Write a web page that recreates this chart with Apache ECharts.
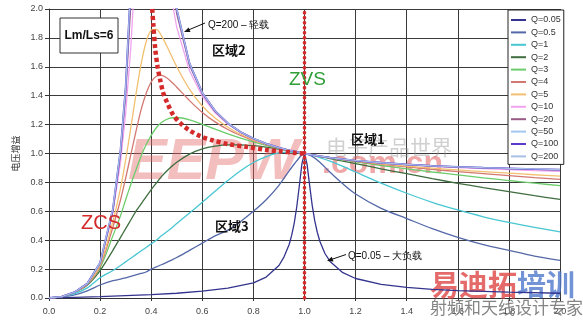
<!DOCTYPE html>
<html><head><meta charset="utf-8">
<script src="https://cdn.jsdelivr.net/npm/echarts@6/dist/echarts.min.js"></script>
<style>html,body{margin:0;padding:0;background:#fff}#c{width:583px;height:323px}</style>
</head><body><div id="c"></div>
<script>
// normalized frequency fn = fs/fr
const freq = [0,0.05,0.1,0.15,0.2,0.25,0.28,0.3,0.32,0.34,0.36,0.38,0.4,0.42,0.44,0.47,0.5,0.55,0.6,0.65,0.7,0.75,0.8,0.85,0.9,0.94,0.97,1.0,1.03,1.06,1.1,1.15,1.2,1.3,1.4,1.5,1.6,1.7,1.8,1.9,2.0];
const freqQ005 = [0,0.1,0.2,0.3,0.4,0.5,0.6,0.7,0.8,0.85,0.9,0.92,0.94,0.95,0.96,0.97,0.98,0.99,1.0,1.01,1.02,1.03,1.04,1.05,1.06,1.08,1.1,1.15,1.2,1.3,1.4,1.5,1.6,1.8,2.0];
const gainQ005 = [0,0.005,0.010,0.017,0.024,0.033,0.047,0.069,0.105,0.145,0.225,0.285,0.37,0.435,0.52,0.635,0.78,0.93,1.0,0.927,0.781,0.643,0.535,0.455,0.393,0.308,0.253,0.175,0.135,0.094,0.073,0.060,0.051,0.040,0.033];
const gainQ05 = [0,0.008,0.022,0.05,0.09,0.12,0.13,0.14,0.15,0.16,0.17,0.18,0.20,0.215,0.23,0.255,0.28,0.33,0.38,0.43,0.47,0.53,0.60,0.68,0.78,0.88,0.95,1.0,0.98,0.94,0.87,0.79,0.72,0.62,0.55,0.48,0.42,0.37,0.33,0.29,0.26];
const gainQ1 = [0,0.01,0.03,0.07,0.14,0.19,0.225,0.25,0.275,0.30,0.325,0.35,0.375,0.40,0.43,0.47,0.515,0.588,0.663,0.739,0.813,0.881,0.938,0.979,1.004,1.010,1.008,1.0,0.988,0.972,0.947,0.911,0.872,0.795,0.725,0.662,0.609,0.562,0.523,0.488,0.457];
const gainQ2 = [0,0.01,0.04,0.09,0.19,0.33,0.42,0.48,0.54,0.60,0.65,0.70,0.75,0.795,0.84,0.895,0.94,0.996,1.032,1.051,1.060,1.060,1.054,1.044,1.031,1.019,1.010,1.0,0.990,0.980,0.965,0.948,0.930,0.894,0.860,0.826,0.794,0.764,0.736,0.708,0.683];
const gainQ3 = [0,0.01,0.04,0.095,0.21,0.43,0.57,0.68,0.785,0.885,0.98,1.06,1.125,1.178,1.214,1.243,1.249,1.233,1.202,1.168,1.136,1.107,1.081,1.057,1.036,1.021,1.010,1.0,0.990,0.981,0.969,0.955,0.942,0.917,0.894,0.872,0.852,0.832,0.813,0.795,0.777];
const gainQ4 = [0,0.01,0.04,0.095,0.22,0.49,0.68,0.83,0.99,1.15,1.30,1.415,1.495,1.535,1.540,1.511,1.459,1.366,1.284,1.219,1.166,1.125,1.090,1.062,1.038,1.022,1.010,1.0,0.990,0.981,0.970,0.958,0.946,0.925,0.907,0.890,0.875,0.861,0.847,0.833,0.821];
const gainQ5 = [0,0.01,0.04,0.10,0.23,0.53,0.76,0.955,1.175,1.405,1.615,1.772,1.853,1.859,1.816,1.711,1.600,1.444,1.329,1.245,1.182,1.133,1.095,1.064,1.039,1.022,1.010,1.0,0.990,0.982,0.971,0.959,0.948,0.929,0.913,0.899,0.886,0.875,0.864,0.853,0.843];
const gainQ10 = [0,0.01,0.04,0.10,0.24,0.59,0.94,1.277,1.727,2.348,3.079,3.553,3.44,3.025,2.617,2.168,1.873,1.573,1.396,1.282,1.203,1.145,1.101,1.067,1.040,1.022,1.011,1.0,0.990,0.982,0.972,0.960,0.951,0.935,0.922,0.911,0.902,0.895,0.888,0.882,0.877];
const gainQ20 = [0,0.01,0.04,0.10,0.24,0.60,1.0,1.407,2.028,3.13,5.2,7.07,5.52,3.95,3.06,2.353,1.966,1.611,1.415,1.292,1.208,1.148,1.103,1.068,1.041,1.022,1.011,1.0,0.991,0.982,0.972,0.961,0.951,0.936,0.924,0.914,0.906,0.900,0.895,0.890,0.886];
const gainQ50 = [0,0.01,0.04,0.10,0.24,0.61,1.02,1.451,2.145,3.537,7.48,17.3,7.37,4.40,3.234,2.414,1.994,1.622,1.420,1.295,1.210,1.149,1.103,1.068,1.041,1.022,1.011,1.0,0.991,0.982,0.972,0.961,0.951,0.936,0.924,0.915,0.908,0.901,0.896,0.892,0.888];
const gainQ100 = [0,0.01,0.04,0.10,0.245,0.615,1.025,1.457,2.163,3.609,8.12,32.5,7.83,4.48,3.26,2.423,1.999,1.624,1.421,1.295,1.210,1.149,1.104,1.068,1.041,1.022,1.011,1.0,0.991,0.982,0.972,0.961,0.951,0.936,0.925,0.915,0.908,0.902,0.897,0.892,0.889];
const gainQ200 = [0,0.01,0.04,0.10,0.245,0.62,1.03,1.459,2.168,3.628,8.31,53,7.96,4.5,3.268,2.425,2.0,1.624,1.421,1.295,1.210,1.149,1.104,1.068,1.041,1.022,1.011,1.0,0.991,0.982,0.972,0.961,0.952,0.936,0.925,0.915,0.908,0.902,0.897,0.893,0.889];
// ZCS/ZVS boundary (peak locus) and resonance line
const locusX = [0.404,0.408,0.416,0.425,0.435,0.447,0.463,0.485,0.514,0.55,0.592,0.643,0.7,0.776,0.85,0.906,0.96,1.0];
const locusY = [2.0,1.9,1.72,1.6,1.51,1.42,1.35,1.27,1.21,1.16,1.12,1.09,1.065,1.045,1.025,1.015,1.005,1.0];
const zvsX = [1.0,1.0];
const zvsY = [0,2.0];
const seriesNames = ['Q=0.05','Q=0.5','Q=1','Q=2','Q=3','Q=4','Q=5','Q=10','Q=20','Q=50','Q=100','Q=200'];
const xTicks = [0,0.2,0.4,0.6,0.8,1.0,1.2,1.4,1.6,1.8,2.0];

const zip = (xs, ys) => xs.map((x, i) => [x, ys[i]]);
const colors = ['#34348e','#5468a8','#48c6d2','#3f6e3f','#6ccc6c','#d27870','#f2c070','#f0a4ee','#9a5a88','#a2c8f0','#5c3ccc','#a8bfe6'];
const sets = [[freqQ005,gainQ005],[freq,gainQ05],[freq,gainQ1],[freq,gainQ2],[freq,gainQ3],[freq,gainQ4],[freq,gainQ5],[freq,gainQ10],[freq,gainQ20],[freq,gainQ50],[freq,gainQ100],[freq,gainQ200]];
const widths = [1.3,1.3,1.3,1.3,1.3,1.3,1.3,1.3,1.3,1.3,1.8,1.3];

const series = sets.map((s, i) => ({
  name: seriesNames[i], type: 'line', data: zip(s[0], s[1]), showSymbol: false, symbol: 'none',
  smooth: (i >= 1 && i <= 6) ? 0.3 : false, clip: true,
  lineStyle: { color: colors[i], width: widths[i] }, itemStyle: { color: colors[i] }, z: 3 + i * 0.01
}));
series.push({
  name: 'locus', type: 'line', data: zip(locusX, locusY), symbol: 'none', smooth: 0.3, clip: true,
  lineStyle: { color: '#d42a2a', width: 4.5, type: [4, 3], cap: 'butt' }, z: 10
});
series.push({
  name: 'zvs', type: 'line', data: zip(zvsX, zvsY), symbol: 'none', clip: false,
  lineStyle: { color: '#d42a2a', width: 3.5, type: [0.5, 4.5], cap: 'round' }, z: 10
});

const F = 'Liberation Sans, Arial, sans-serif';
const CJK = '"Noto Sans CJK SC", sans-serif';
const chart = echarts.init(document.getElementById('c'), null, { renderer: 'canvas' });
chart.setOption({
  animation: false,
  backgroundColor: '#fff',
  grid: { left: 49, right: 23, top: 9, bottom: 25 },
  xAxis: {
    type: 'value', min: xTicks[0], max: xTicks[xTicks.length - 1], interval: 0.2,
    axisLine: { lineStyle: { color: '#333' } },
    axisTick: { show: true, length: 3, lineStyle: { color: '#333' } },
    axisLabel: { formatter: v => v.toFixed(1), fontSize: 9, color: '#444', margin: 9, fontFamily: F },
    splitLine: { show: true, lineStyle: { color: '#3a3a3a', width: 1 } }
  },
  yAxis: {
    type: 'value', min: 0, max: 2, interval: 0.2,
    name: '电压增益', nameLocation: 'middle', nameGap: 22, nameRotate: 90,
    nameTextStyle: { fontSize: 9, color: '#333', fontFamily: CJK },
    axisLine: { show: true, lineStyle: { color: '#333' } },
    axisTick: { show: true, length: 4, lineStyle: { color: '#333' } },
    axisLabel: { formatter: v => v.toFixed(1), fontSize: 9, color: '#444', margin: 6, fontFamily: F },
    splitLine: { show: true, lineStyle: { color: '#3a3a3a', width: 1 } }
  },
  legend: {
    data: seriesNames, orient: 'vertical', left: 508, top: 10,
    backgroundColor: '#fff', borderColor: '#222', borderWidth: 1,
    padding: [5, 3, 3, 3], itemGap: 2.4, itemWidth: 15, itemHeight: 2, itemTextGap: 3,
    icon: 'rect', textStyle: { fontSize: 9, color: '#333', fontFamily: F, lineHeight: 10 }, z: 20
  },
  graphic: [
    // watermarks
    { type: 'text', x: 128, y: 134, z: 1, style: { text: 'EEPW', font: 'bold italic 58px ' + F, fill: 'rgba(226,100,100,0.42)' } },
    { type: 'text', x: 326, y: 137, z: 1, style: { text: '电子产品世界', font: '21px "Noto Sans CJK SC"', fill: 'rgba(150,150,150,0.45)' } },
    { type: 'text', x: 322, y: 148, z: 1, style: { text: '.com.cn', font: 'bold 32px ' + F, fill: 'rgba(226,80,80,0.5)' } },
    { type: 'text', x: 430, y: 270, z: 1, style: { text: '{a|易迪拓}{b|培训}', rich: { a: { font: 'bold 29px "Noto Sans CJK SC"', fill: 'rgba(222,70,70,0.8)' }, b: { font: 'bold 29px "Noto Sans CJK SC"', fill: 'rgba(80,120,205,0.8)' } } } },
    { type: 'text', x: 430, y: 299, z: 1, style: { text: '射频和天线设计专家', font: '17px "Noto Sans CJK SC"', fill: 'rgba(110,110,110,0.85)' } },
    // annotations
    { type: 'rect', z: 30, shape: { x: 60, y: 18, width: 58, height: 35 }, style: { fill: '#fff', stroke: '#333', lineWidth: 1 } },
    { type: 'text', x: 89, y: 36, z: 31, style: { text: 'Lm/Ls=6', font: 'bold 12px ' + F, fill: '#111', align: 'center', verticalAlign: 'middle' } },
    { type: 'text', x: 208, y: 25, z: 31, style: { text: 'Q=200 – 轻载', font: '10px ' + F, fill: '#111', verticalAlign: 'middle' } },
    { type: 'line', z: 31, shape: { x1: 205, y1: 23, x2: 186, y2: 31 }, style: { stroke: '#111', lineWidth: 1 } },
    { type: 'polygon', z: 31, shape: { points: [[184, 32], [190.5, 32.0], [188.6, 27.4]] }, style: { fill: '#111' } },
    { type: 'text', x: 212, y: 50, z: 31, style: { text: '区域2', font: 'bold 13px ' + CJK, fill: '#111', verticalAlign: 'middle' } },
    { type: 'text', x: 289, y: 80, z: 31, style: { text: 'ZVS', font: '19px ' + F, fill: '#2f9e35', verticalAlign: 'middle' } },
    { type: 'text', x: 351, y: 139, z: 31, style: { text: '区域1', font: 'bold 13px ' + CJK, fill: '#111', verticalAlign: 'middle' } },
    { type: 'text', x: 81, y: 223, z: 31, style: { text: 'ZCS', font: '20px ' + F, fill: '#d42a2a', verticalAlign: 'middle' } },
    { type: 'text', x: 215, y: 226, z: 31, style: { text: '区域3', font: 'bold 13px ' + CJK, fill: '#111', verticalAlign: 'middle' } },
    { type: 'text', x: 348, y: 256, z: 31, style: { text: 'Q=0.05 – 大负载', font: '10px ' + F, fill: '#111', verticalAlign: 'middle' } },
    { type: 'line', z: 31, shape: { x1: 346, y1: 254.5, x2: 329, y2: 260.3 }, style: { stroke: '#111', lineWidth: 1 } },
    { type: 'polygon', z: 31, shape: { points: [[327, 261], [333.5, 261.4], [331.8, 256.7]] }, style: { fill: '#111' } }
  ],
  series: series
});
</script></body></html>
